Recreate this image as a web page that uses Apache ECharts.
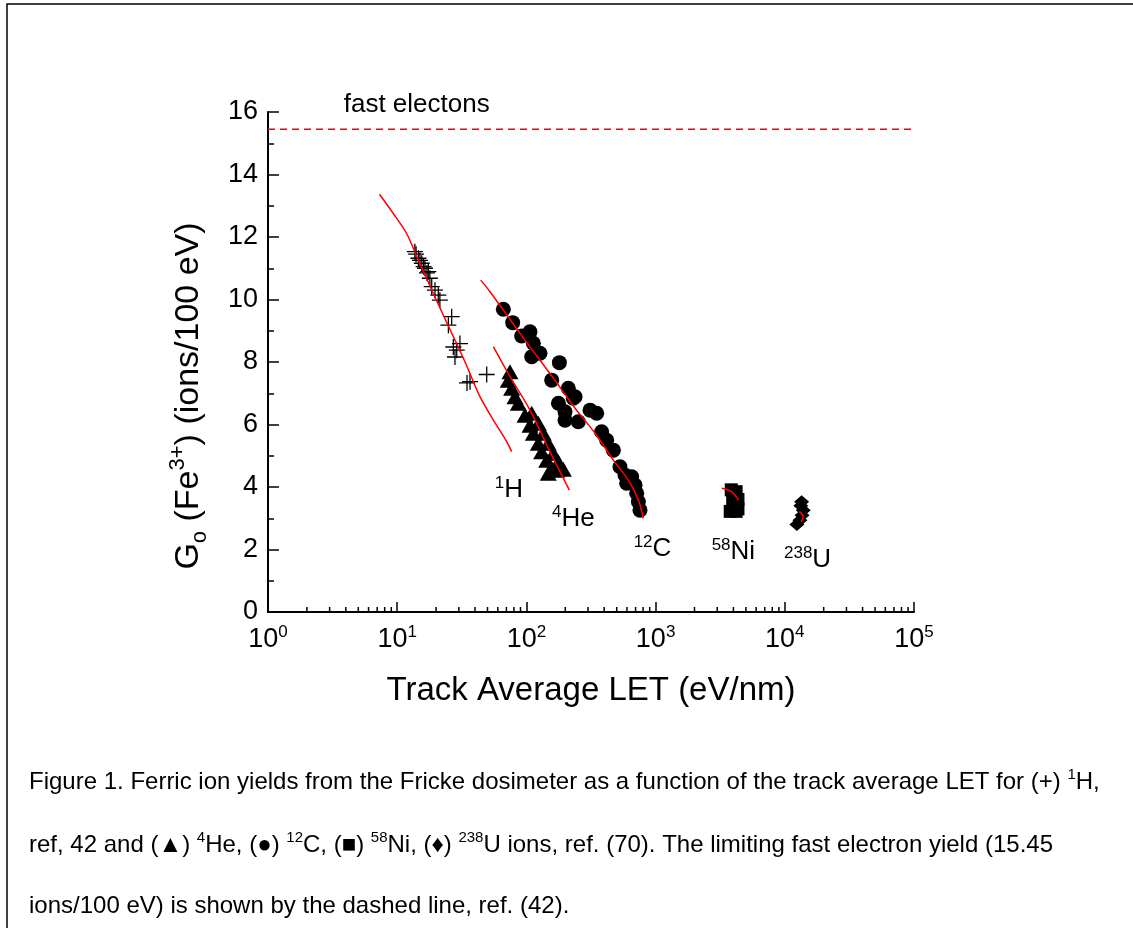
<!DOCTYPE html>
<html><head><meta charset="utf-8">
<script src="https://cdn.jsdelivr.net/npm/echarts@6/dist/echarts.min.js"></script>
<style>html,body{margin:0;padding:0;background:#fff}#c{width:1133px;height:928px}</style>
</head><body><div id="c"></div>
<script>
const FONT = '"Liberation Sans", Arial, Helvetica, sans-serif';

// ---- data (LET in eV/nm, G in ions/100 eV) ----
const fastElectronYield = 15.45;

const protonData = [[13.7,11.53],[14.0,11.45],[14.6,11.32],[15.0,11.25],[15.5,11.16],[16.0,11.05],[16.4,11.0],[17.0,10.85],[17.4,10.89],[17.9,10.68],[18.5,10.41],[19.6,10.30],[20.8,10.14],[21.4,9.98],[26.4,9.45],[24.9,9.18],[30.6,8.59],[27.2,8.48],[28.9,8.38],[28.0,8.16],[34.7,7.33],[36.6,7.37],[49.3,7.6]];

const heliumData = [[74.6,7.69],[72.4,7.42],[76.9,7.16],[81.6,6.89],[86.6,6.68],[97.5,6.30],[106.6,5.98],[113.2,5.72],[123.7,5.40],[131.3,5.13],[143.6,4.86],[157,4.60],[109.9,6.36],[123.7,6.04],[135.2,5.72],[147.6,5.40],[161.5,5.08],[176.6,4.81],[193.2,4.57],[147.6,4.44],[171.6,4.54]];

const carbonData = [[66.3,9.69],[78.3,9.26],[91.9,8.83],[106.6,8.97],[113.2,8.6],[109.9,8.17],[127.4,8.28],[157,7.42],[180,7.98],[211,7.16],[230.6,6.84],[238,6.89],[177,6.68],[199,6.41],[199,6.14],[252,6.09],[311,6.46],[350,6.36],[382,5.77],[418,5.5],[471,5.18],[530,4.65],[580,4.38],[597,4.12],[653,4.33],[693,4.06],[714,3.8],[736,3.53],[757,3.26]];

const nickelData = [[3850,3.91],[4200,3.85],[4340,3.6],[3950,3.6],[4340,3.3],[3780,3.22],[4200,3.22]];

const uraniumData = [[13500,3.53],[13300,3.4],[13900,3.26],[13600,3.1],[13100,2.94],[12400,2.8]];

const protonFit = [[7.3,13.37],[9.3,12.76],[11.8,12.12],[14.2,11.37],[19,10.2],[27.2,8.81],[33.5,8.0],[43.7,6.89],[55.5,6.14],[70.4,5.45],[76.9,5.13]];
const heliumFit = [[55.5,8.49],[74.6,7.53],[106.6,6.46],[152,5.13],[215,3.9]];
const carbonFit = [[44.3,10.62],[52.3,10.25],[97.5,8.70],[166,7.42],[238,6.52],[340,5.72],[471,4.86],[615,4.22],[736,3.58],[803,3.0]];
const nickelFit = [[3250,3.96],[3880,3.85],[4370,3.58]];
const uraniumFit = [[12970,3.21],[13830,3.05],[13340,2.89]];

// annotation texts and their anchors in data space
const ionMass = ['1','4','12','58','238'];
const ionSymbol = ['H','He','C','Ni','U'];
const ionLabelAnchor = [[73.3,3.91],[230.7,2.97],[946,2.02],[4000,1.94],[15000,1.66]];
const fastLabelText = 'fast electons';
const fastLabelAnchor = [14.15,16.22];

const xMinorTicks = [2,3,4,5,6,7,8,9,20,30,40,50,60,70,80,90,200,300,400,500,600,700,800,900,2000,3000,4000,5000,6000,7000,8000,9000,20000,30000,40000,50000,60000,70000,80000,90000];

const captionLines = [
  '{n|Figure 1. Ferric ion yields from the Fricke dosimeter as a function of the track average LET for (+) }{s|1}{n|H,}',
  '{n|ref, 42 and (▲) }{s|4}{n|He, (●) }{s|12}{n|C, (■) }{s|58}{n|Ni, (♦) }{s|238}{n|U ions, ref. (70). The limiting fast electron yield (15.45}',
  '{n|ions/100 eV) is shown by the dashed line, ref. (42).}'
];
const yTitle = '{m|G}{sub|o}{m| (Fe}{sup|3+}{m|) (ions/100 eV)}';
const xTitle = 'Track Average LET (eV/nm)';

// ---- chart ----
const chart = echarts.init(document.getElementById('c'), null, {renderer: 'canvas'});

const labelData = ionLabelAnchor.map((p, i) => ({value: p, text: '{sp|' + ionMass[i] + '}{m|' + ionSymbol[i] + '}'}));
labelData.push({value: fastLabelAnchor, text: '{f|' + fastLabelText + '}'});

const symBase = {type: 'scatter', itemStyle: {color: '#000', opacity: 1}, z: 2, silent: true};
const fitBase = {type: 'line', showSymbol: false, symbol: 'none', smooth: 0.3, lineStyle: {color: '#ff0000', width: 1.5}, z: 4, silent: true};

const option = {
  animation: false,
  backgroundColor: '#fff',
  textStyle: {fontFamily: FONT},
  grid: {left: 268, top: 112, width: 646, height: 500, containLabel: false},
  xAxis: {
    type: 'log', logBase: 10, min: 1, max: 100000,
    axisLine: {show: true, lineStyle: {color: '#000', width: 2}},
    axisTick: {show: true, inside: true, length: 10, lineStyle: {color: '#000', width: 1.5}},
    splitLine: {show: false},
    axisLabel: {
      margin: 12, color: '#000',
      formatter: v => '{b|10}{s|' + Math.round(Math.log10(v)) + '}',
      rich: {
        b: {fontSize: 27, lineHeight: 32, color: '#000', fontFamily: FONT},
        s: {fontSize: 17, lineHeight: 18, verticalAlign: 'top', color: '#000', fontFamily: FONT}
      }
    },
    name: xTitle, nameLocation: 'middle', nameGap: 62,
    nameTextStyle: {fontSize: 33, color: '#000', fontFamily: FONT}
  },
  yAxis: {
    type: 'value', min: 0, max: 16, interval: 2,
    axisLine: {show: true, lineStyle: {color: '#000', width: 2}},
    axisTick: {show: true, inside: true, length: 11, lineStyle: {color: '#000', width: 1.5}},
    minorTick: {show: true, splitNumber: 2, length: 6, lineStyle: {color: '#000', width: 1.5}},
    splitLine: {show: false}, minorSplitLine: {show: false},
    axisLabel: {fontSize: 27, color: '#000', margin: 10, fontFamily: FONT}
  },
  graphic: [
    {type: 'rect', shape: {x: 7, y: 4, width: 1200, height: 1000}, style: {fill: 'none', stroke: '#000', lineWidth: 1.5}, silent: true},
    {type: 'text', x: 189, y: 396, rotation: Math.PI / 2, silent: true,
     style: {text: yTitle, align: 'center', verticalAlign: 'middle', fill: '#000',
       rich: {
         m: {fontSize: 34, lineHeight: 44, fontFamily: FONT, fill: '#000'},
         sub: {fontSize: 22, lineHeight: 22, verticalAlign: 'bottom', fontFamily: FONT, fill: '#000'},
         sup: {fontSize: 22, lineHeight: 22, verticalAlign: 'top', fontFamily: FONT, fill: '#000'}
       }}},
  ].concat(captionLines.map((t, i) => ({
    type: 'text', x: 29, y: [782, 845, 906][i], silent: true,
    style: {text: t, align: 'left', verticalAlign: 'middle', fill: '#000',
      rich: {
        n: {fontSize: 24, lineHeight: 30, fontFamily: FONT, fill: '#000'},
        s: {fontSize: 15, lineHeight: 16, verticalAlign: 'top', fontFamily: FONT, fill: '#000'}
      }}
  }))),
  series: [
    {type: 'custom', coordinateSystem: 'cartesian2d', silent: true, z: 3,
     data: xMinorTicks.map(v => [v, 0]),
     renderItem: (params, api) => {
       const p = api.coord([api.value(0), 0]);
       return {type: 'line', shape: {x1: p[0], y1: p[1], x2: p[0], y2: p[1] - 5}, style: {stroke: '#000', lineWidth: 1.5}};
     }},
    {type: 'line', data: [[1, fastElectronYield], [100000, fastElectronYield]], showSymbol: false, symbol: 'none', silent: true,
     lineStyle: {color: '#ff0000', width: 1.5, type: [7, 5]}, z: 4},
    Object.assign({}, symBase, {name: '1H', data: protonData, symbol: 'path://M-10,-0.8H10V0.8H-10Z M-0.8,-10H0.8V10H-0.8Z', symbolSize: 16}),
    Object.assign({}, symBase, {name: '4He', data: heliumData, symbol: 'triangle', symbolSize: [17, 15]}),
    Object.assign({}, symBase, {name: '12C', data: carbonData, symbol: 'circle', symbolSize: 15}),
    Object.assign({}, symBase, {name: '58Ni', data: nickelData, symbol: 'rect', symbolSize: 13}),
    Object.assign({}, symBase, {name: '238U', data: uraniumData, symbol: 'diamond', symbolSize: [15, 13]}),
    Object.assign({}, fitBase, {data: protonFit}),
    Object.assign({}, fitBase, {data: heliumFit}),
    Object.assign({}, fitBase, {data: carbonFit}),
    Object.assign({}, fitBase, {data: nickelFit}),
    Object.assign({}, fitBase, {data: uraniumFit, smooth: 0.5}),
    {type: 'scatter', silent: true, clip: false, z: 5, symbolSize: 0,
     itemStyle: {color: '#000', opacity: 1},
     data: labelData,
     label: {show: true, position: 'inside', color: '#000', opacity: 1, textBorderWidth: 0,
       formatter: p => p.data.text,
       rich: {
         m: {fontSize: 26, lineHeight: 30, color: '#000', fontFamily: FONT},
         sp: {fontSize: 17, lineHeight: 20, verticalAlign: 'top', color: '#000', fontFamily: FONT},
         f: {fontSize: 26, lineHeight: 30, color: '#000', fontFamily: FONT}
       }}}
  ]
};
chart.setOption(option);
</script>
</body></html>
